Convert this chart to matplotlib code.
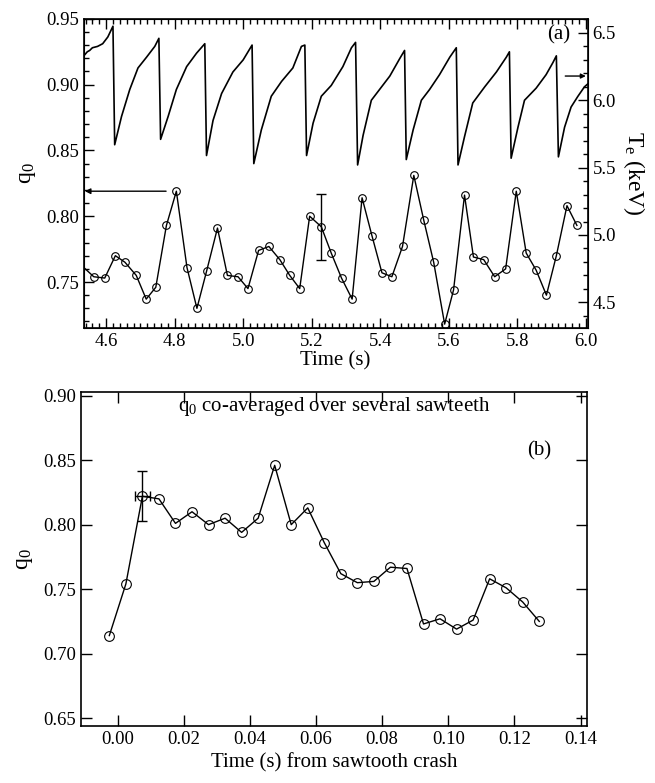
import matplotlib
matplotlib.use("Agg")
import matplotlib.pyplot as plt
from matplotlib.ticker import MultipleLocator, FormatStrFormatter

plt.rcParams["font.family"] = ["Liberation Serif", "DejaVu Serif"]
plt.rcParams["mathtext.fontset"] = "custom"
plt.rcParams["mathtext.rm"] = "Liberation Serif"

# (a) q0 from measurements, time in s (first entry is where the line leaves the frame)
qa_time = [4.535, 4.564, 4.596, 4.627, 4.655, 4.688, 4.717, 4.745, 4.776, 4.805,
           4.836, 4.865, 4.893, 4.925, 4.954, 4.985, 5.014, 5.045, 5.075, 5.107,
           5.136, 5.165, 5.194, 5.228, 5.257, 5.287, 5.318, 5.347, 5.376, 5.405,
           5.434, 5.465, 5.498, 5.527, 5.556, 5.588, 5.614, 5.646, 5.672, 5.702,
           5.734, 5.766, 5.797, 5.826, 5.855, 5.885, 5.914, 5.945, 5.974]
qa_val = [0.761, 0.754, 0.753, 0.770, 0.765, 0.755, 0.737, 0.746, 0.793, 0.819,
          0.761, 0.730, 0.758, 0.791, 0.755, 0.754, 0.745, 0.774, 0.777, 0.767,
          0.755, 0.745, 0.800, 0.792, 0.772, 0.753, 0.737, 0.814, 0.785, 0.757,
          0.754, 0.777, 0.831, 0.797, 0.765, 0.718, 0.744, 0.816, 0.769, 0.767,
          0.754, 0.760, 0.819, 0.772, 0.759, 0.740, 0.770, 0.808, 0.793]
qa_err_time = 5.228
qa_err_val = 0.792
qa_err = 0.025

# (a) central electron temperature trace (keV), vertices
te_time = [4.535, 4.545, 4.552, 4.560, 4.575, 4.590, 4.605, 4.620,
           4.625, 4.645, 4.669, 4.693, 4.718, 4.742, 4.754,
           4.759, 4.781, 4.805, 4.835, 4.864, 4.888,
           4.893, 4.912, 4.937, 4.970, 5.000, 5.026,
           5.031, 5.053, 5.082, 5.112, 5.145, 5.170, 5.180,
           5.185, 5.204, 5.228, 5.257, 5.291, 5.316, 5.328,
           5.334, 5.350, 5.374, 5.398, 5.428, 5.457, 5.471,
           5.476, 5.496, 5.520, 5.544, 5.573, 5.603, 5.622,
           5.627, 5.646, 5.670, 5.705, 5.739, 5.768, 5.777,
           5.782, 5.802, 5.821, 5.855, 5.884, 5.904, 5.914,
           5.920, 5.938, 5.957, 5.977, 5.996, 6.005]
te_val = [6.33, 6.36, 6.37, 6.39, 6.40, 6.42, 6.47, 6.55,
          5.67, 5.88, 6.08, 6.24, 6.32, 6.40, 6.46,
          5.71, 5.88, 6.08, 6.25, 6.35, 6.42,
          5.59, 5.85, 6.05, 6.21, 6.30, 6.41,
          5.53, 5.78, 6.03, 6.14, 6.24, 6.40, 6.41,
          5.59, 5.83, 6.03, 6.11, 6.25, 6.39, 6.43,
          5.52, 5.74, 6.00, 6.08, 6.18, 6.31, 6.37,
          5.56, 5.78, 6.00, 6.08, 6.19, 6.32, 6.39,
          5.52, 5.73, 5.98, 6.10, 6.21, 6.32, 6.36,
          5.57, 5.80, 6.00, 6.09, 6.19, 6.28, 6.33,
          5.58, 5.80, 5.95, 6.03, 6.10, 6.12]

# (b) q0 co-averaged over several sawteeth
qb_time = [-0.0025, 0.0025, 0.0075, 0.0125, 0.0175, 0.0225, 0.0275, 0.0325,
           0.0375, 0.0425, 0.0475, 0.0525, 0.0575, 0.0625, 0.0675, 0.0725,
           0.0775, 0.0825, 0.0875, 0.0925, 0.0975, 0.1025, 0.1075, 0.1125,
           0.1175, 0.1225, 0.1275]
qb_val = [0.714, 0.754, 0.822, 0.820, 0.801, 0.810, 0.800, 0.805,
          0.794, 0.805, 0.846, 0.800, 0.813, 0.786, 0.762, 0.755,
          0.756, 0.767, 0.766, 0.723, 0.727, 0.719, 0.726, 0.758,
          0.751, 0.740, 0.725]
qb_err_time = 0.0075
qb_err_val = 0.822
qb_err_y = 0.0195
qb_err_x = 0.0023

fig = plt.figure(figsize=(6.55, 7.83), dpi=100)

# ---------- panel (a) ----------
ax1 = fig.add_axes([0.128, 0.581, 0.769, 0.395])
ax1.plot(qa_time, qa_val, color="black", lw=1.0)
ax1.plot(qa_time[1:], qa_val[1:], ls="none", marker="o", ms=5.5,
         mfc="none", mec="black", mew=0.8, clip_on=False, zorder=3)
ax1.errorbar([qa_err_time], [qa_err_val], yerr=[qa_err], fmt="none",
             ecolor="black", elinewidth=1.0, capsize=3.5, capthick=1.0)
ax1.annotate("", xy=(4.538, 0.819), xytext=(4.775, 0.819),
             arrowprops=dict(arrowstyle="-|>", color="black", lw=1.0,
                             mutation_scale=8, shrinkA=0, shrinkB=0))
ax1.set_xlim(4.535, 6.005)
ax1.set_ylim(0.715, 0.95)
ax1.xaxis.set_major_locator(MultipleLocator(0.2))
ax1.xaxis.set_minor_locator(MultipleLocator(0.02))
ax1.yaxis.set_major_locator(MultipleLocator(0.05))
ax1.yaxis.set_minor_locator(MultipleLocator(0.01))
ax1.xaxis.set_major_formatter(FormatStrFormatter("%.1f"))
ax1.yaxis.set_major_formatter(FormatStrFormatter("%.2f"))
ax1.tick_params(which="both", direction="in", top=True, right=False,
                labelsize=13.5, width=1.0)
ax1.tick_params(which="major", length=7)
ax1.tick_params(which="minor", length=3.5)
ax1.set_xlabel("Time (s)", fontsize=15, labelpad=1)
ax1.set_ylabel("q$\\mathregular{_0}$", fontsize=17, labelpad=6)
ax1.text(5.955, 0.938, "(a)", fontsize=15, ha="right", va="center")

ax1r = ax1.twinx()
ax1r.plot(te_time, te_val, color="black", lw=1.2)
ax1r.annotate("", xy=(6.0, 6.18), xytext=(5.94, 6.18),
              arrowprops=dict(arrowstyle="-|>", color="black", lw=1.0,
                              mutation_scale=7, shrinkA=0, shrinkB=0))
ax1r.set_ylim(4.309, 6.605)
ax1r.yaxis.set_major_locator(MultipleLocator(0.5))
ax1r.yaxis.set_minor_locator(MultipleLocator(0.1))
ax1r.yaxis.set_major_formatter(FormatStrFormatter("%.1f"))
ax1r.tick_params(which="both", direction="in", labelsize=13.5, width=1.0)
ax1r.tick_params(which="major", length=7)
ax1r.tick_params(which="minor", length=3.5)
ax1r.set_ylabel("T$\\mathregular{_e}$ (keV)", fontsize=17, rotation=-90,
                labelpad=22)
for sp in ax1r.spines.values():
    sp.set_linewidth(1.2)

# ---------- panel (b) ----------
ax2 = fig.add_axes([0.124, 0.073, 0.7725, 0.4266])
ax2.plot(qb_time, qb_val, color="black", lw=1.0, marker="o", ms=7,
         mfc="none", mec="black", mew=0.8)
ax2.errorbar([qb_err_time], [qb_err_val], yerr=[qb_err_y], xerr=[qb_err_x],
             fmt="none", ecolor="black", elinewidth=1.0, capsize=3.5,
             capthick=1.0)
ax2.set_xlim(-0.011, 0.142)
ax2.set_ylim(0.644, 0.903)
ax2.xaxis.set_major_locator(MultipleLocator(0.02))
ax2.yaxis.set_major_locator(MultipleLocator(0.05))
ax2.xaxis.set_major_formatter(FormatStrFormatter("%.2f"))
ax2.yaxis.set_major_formatter(FormatStrFormatter("%.2f"))
ax2.tick_params(direction="in", top=True, right=True, labelsize=13.5,
                length=8, width=1.0)
ax2.set_xlabel("Time (s) from sawtooth crash", fontsize=15, labelpad=4)
ax2.set_ylabel("q$\\mathregular{_0}$", fontsize=17, labelpad=6)
ax2.text(0.5, 0.955, "q$\\mathregular{_0}$ co-averaged over several sawteeth",
         transform=ax2.transAxes, fontsize=15, ha="center", va="center")
ax2.text(0.131, 0.857, "(b)", fontsize=15, ha="right", va="center")
for sp in ax2.spines.values():
    sp.set_linewidth(1.2)

fig.savefig("out.png", dpi=100)
